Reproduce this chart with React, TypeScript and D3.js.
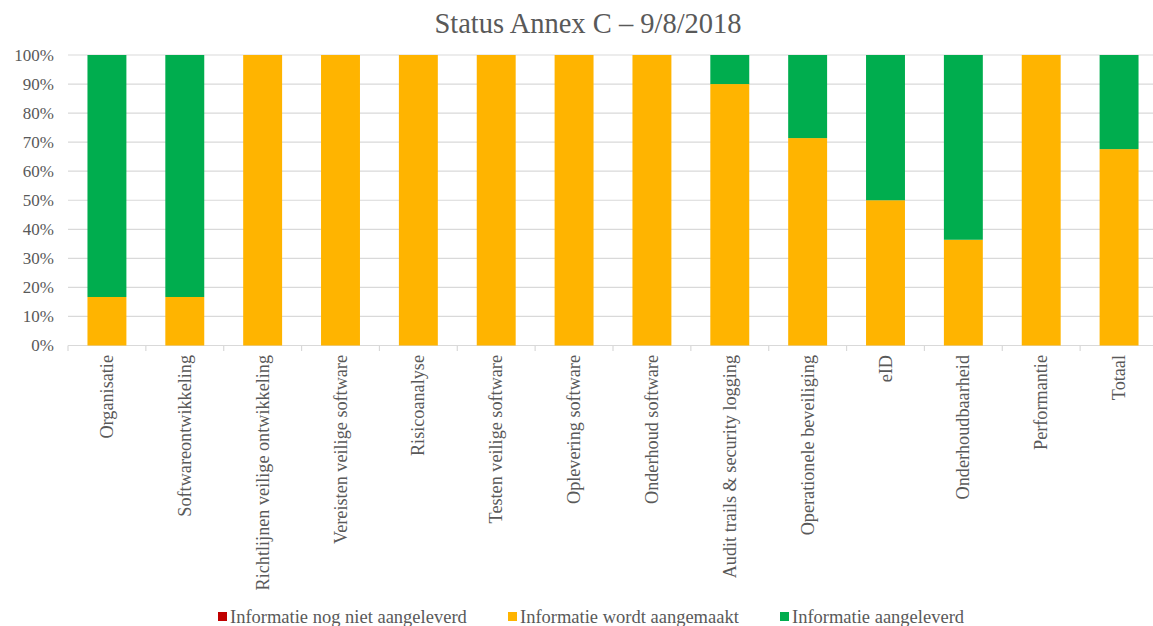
import React from "react";
import * as d3 from "d3";

const categories = [
  "Organisatie",
  "Softwareontwikkeling",
  "Richtlijnen veilige ontwikkeling",
  "Vereisten veilige software",
  "Risicoanalyse",
  "Testen veilige software",
  "Oplevering software",
  "Onderhoud software",
  "Audit trails & security logging",
  "Operationele beveiliging",
  "eID",
  "Onderhoudbaarheid",
  "Performantie",
  "Totaal",
];
const nogNiet = [0, 0, 0, 0, 0, 0, 0, 0, 0, 0, 0, 0, 0, 0];
const wordtAangemaakt = [0.167, 0.167, 1, 1, 1, 1, 1, 1, 0.9, 0.714, 0.5, 0.364, 1, 0.676];
const aangeleverd = [0.833, 0.833, 0, 0, 0, 0, 0, 0, 0.1, 0.286, 0.5, 0.636, 0, 0.324];
const yTicks = [0, 0.1, 0.2, 0.3, 0.4, 0.5, 0.6, 0.7, 0.8, 0.9, 1];
const seriesNames = ["Informatie nog niet aangeleverd", "Informatie wordt aangemaakt", "Informatie aangeleverd"];
const seriesColors = ["#C00000", "#FFB400", "#00AD4E"];

const W = 1153;
const H = 626;
const FONT = "'Liberation Serif', 'DejaVu Serif', serif";

export default function App() {
  const x = d3.scaleBand<string>().domain(categories).range([68, 1158]).paddingInner(0.5).paddingOuter(0.25);
  const xb = d3.scaleBand<string>().domain(categories).range([68, 1158]);
  const y = d3.scaleLinear().domain([0, 1]).range([345.5, 55]);

  const table = categories.map((c, i) => ({
    cat: c,
    s0: nogNiet[i],
    s1: wordtAangemaakt[i],
    s2: aangeleverd[i],
  }));
  const stack = d3.stack<any>().keys(["s0", "s1", "s2"]);
  const layers = stack(table);
  const fmt = d3.format(".0%");
  const legendX = [218, 508, 780];

  return (
    <svg width={W} height={H} style={{ position: "absolute", left: 0, top: 0, background: "#fff" }}>
      <rect x={0} y={0} width={W} height={H} fill="#fff" />
      <text x={588} y={33} textAnchor="middle" fontFamily={FONT} fontSize={28.5} fill="#595959">
        Status Annex C – 9/8/2018
      </text>
      {yTicks.map((t) => (
        <g key={t}>
          <line x1={68} x2={1158} y1={y(t)} y2={y(t)} stroke="#D9D9D9" strokeWidth={1.2} />
          <text x={54} y={y(t)} dy="0.35em" textAnchor="end" fontFamily={FONT} fontSize={17} fill="#595959">
            {fmt(t)}
          </text>
        </g>
      ))}
      {categories.map((c, i) => (
        <line key={"tk" + i} x1={xb(c)!} x2={xb(c)!} y1={345.5} y2={351} stroke="#D9D9D9" strokeWidth={1.2} />
      ))}
      {layers.map((layer, li) => (
        <g key={li} fill={seriesColors[li]}>
          {layer.map((d, i) => (
            <rect
              key={i}
              x={x(categories[i])!}
              width={x.bandwidth()}
              y={y(d[1])}
              height={Math.max(0, y(d[0]) - y(d[1]))}
            />
          ))}
        </g>
      ))}
      {categories.map((c) => {
        const cx = xb(c)! + xb.bandwidth() / 2;
        return (
          <text
            key={"lb" + c}
            transform={`translate(${cx + 6},355) rotate(-90)`}
            textAnchor="end"
            fontFamily={FONT}
            fontSize={18.2}
            fill="#595959"
          >
            {c}
          </text>
        );
      })}
      {seriesNames.map((n, i) => (
        <g key={n}>
          <rect x={legendX[i]} y={612} width={9} height={9} fill={seriesColors[i]} />
          <text x={legendX[i] + 12} y={617} dy="0.35em" fontFamily={FONT} fontSize={18.5} fill="#595959">
            {n}
          </text>
        </g>
      ))}
    </svg>
  );
}
